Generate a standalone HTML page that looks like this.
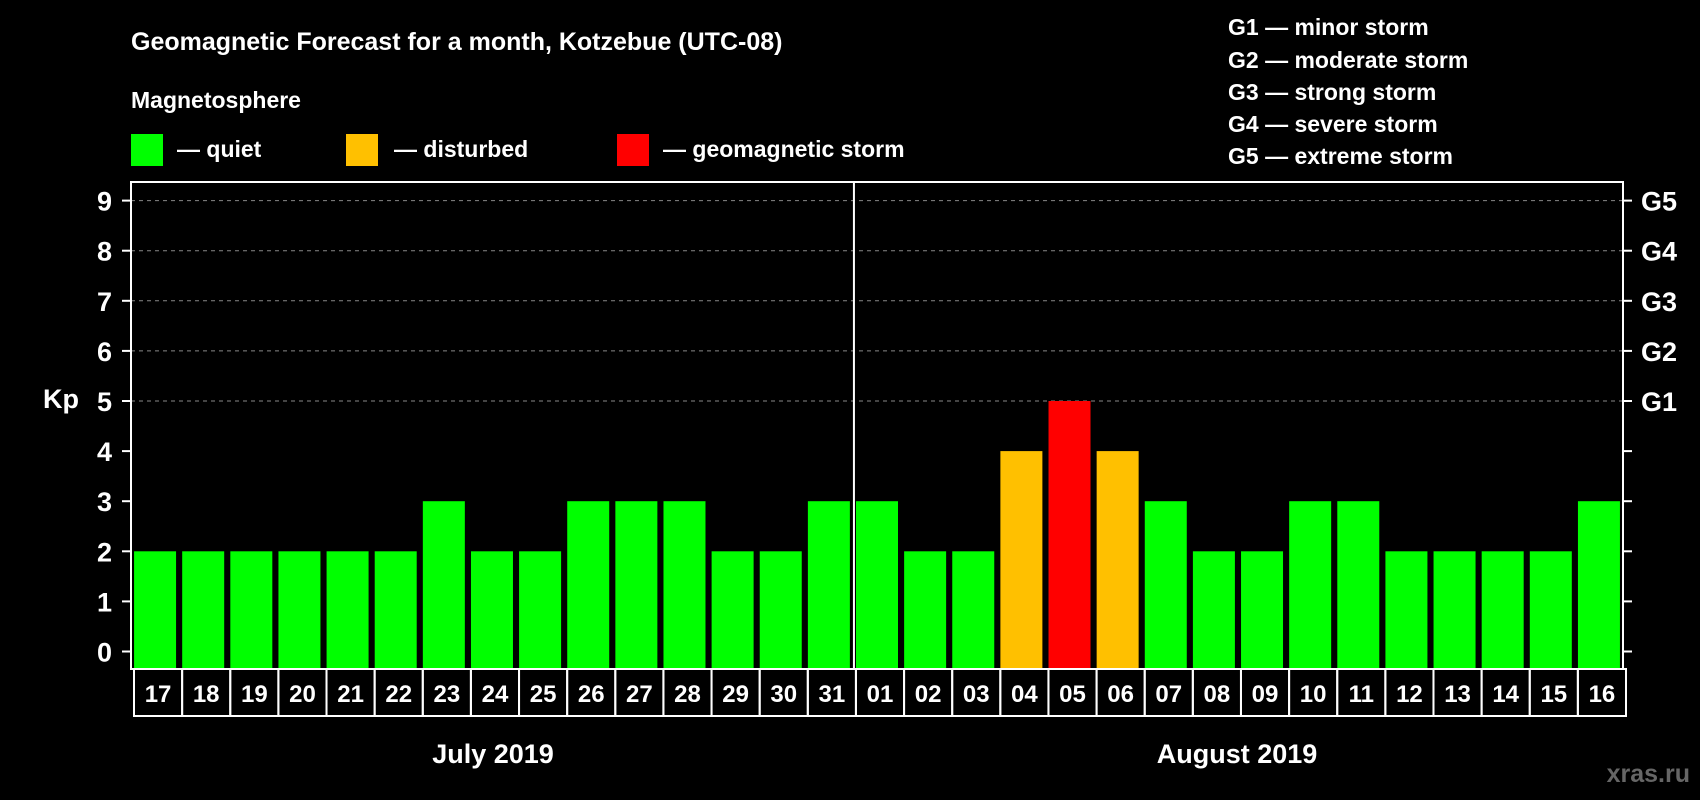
<!DOCTYPE html>
<html><head><meta charset="utf-8"><style>
html,body{margin:0;padding:0;background:#000;width:1700px;height:800px;overflow:hidden}
svg{display:block}
text{font-family:"Liberation Sans",Arial,sans-serif;font-weight:bold;fill:#fff}
</style></head><body>
<svg id="chart" width="1700" height="800" viewBox="0 0 1700 800">
<text x="131" y="50" font-size="25">Geomagnetic Forecast for a month, Kotzebue (UTC-08)</text>
<text x="131" y="108" font-size="23">Magnetosphere</text>
<rect x="131" y="134" width="32" height="32" fill="#00ff00"/>
<text x="177" y="157" font-size="23">— quiet</text>
<rect x="346" y="134" width="32" height="32" fill="#ffc000"/>
<text x="394" y="157" font-size="23">— disturbed</text>
<rect x="617" y="134" width="32" height="32" fill="#ff0000"/>
<text x="663" y="157" font-size="23">— geomagnetic storm</text>
<g font-size="23">
<text x="1228" y="35">G1 — minor storm</text>
<text x="1228" y="68">G2 — moderate storm</text>
<text x="1228" y="100">G3 — strong storm</text>
<text x="1228" y="132">G4 — severe storm</text>
<text x="1228" y="164">G5 — extreme storm</text>
</g>
<text x="43" y="408" font-size="27">Kp</text>
<g id="grid"></g><g id="bars"></g><g id="axes"></g>
<text x="493" y="763" font-size="27" text-anchor="middle">July 2019</text>
<text x="1237" y="763" font-size="27" text-anchor="middle">August 2019</text>
<text x="1690" y="782" font-size="25" text-anchor="end" style="fill:#666">xras.ru</text>
</svg>
<script>
const days=["17","18","19","20","21","22","23","24","25","26","27","28","29","30","31","01","02","03","04","05","06","07","08","09","10","11","12","13","14","15","16"];
const kpValues=[2,2,2,2,2,2,3,2,2,3,3,3,2,2,3,3,2,2,4,5,4,3,2,2,3,3,2,2,2,2,3];
const yTicks=[0,1,2,3,4,5,6,7,8,9];
const gLabels=["G1","G2","G3","G4","G5"];
const NS="http://www.w3.org/2000/svg";
const L=131,R=1623,T=182,B=669;
const slot=(R-L)/days.length, bw=42;
function y(v){return 651.5-v*50.1;}
function x(i){return L+i*slot+(slot-bw)/2;}
function mk(tag,attrs,parent){const e=document.createElementNS(NS,tag);for(const k in attrs)e.setAttribute(k,attrs[k]);parent.appendChild(e);return e;}
const grid=document.getElementById('grid'),bars=document.getElementById('bars'),axes=document.getElementById('axes');
yTicks.forEach(v=>{
  if(v>=5){const g=mk('line',{x1:L,x2:R,y1:y(v),y2:y(v),stroke:'#888','stroke-width':1,'stroke-dasharray':'4,4'},grid);
  
  }
  const t1=mk('line',{x1:L-9,x2:L,y1:y(v),y2:y(v),stroke:'#fff','stroke-width':2},axes);
  
  
  const t2=mk('line',{x1:R,x2:R+9,y1:y(v),y2:y(v),stroke:'#fff','stroke-width':2},axes);
  
  
  const lb=mk('text',{x:112,y:y(v)+10,'font-size':27,'text-anchor':'end'},axes);lb.textContent=v;
  
  
});
gLabels.forEach((g,i)=>{
  const t=mk('text',{x:1641,y:y(5+i)+10,'font-size':27},axes);t.textContent=g;
  
  
});
kpValues.forEach((v,i)=>{
  const c=v>=5?'#ff0000':(v>=4?'#ffc000':'#00ff00');
  const r=mk('rect',{x:x(i),y:y(v),width:bw,height:B-y(v),fill:c},bars);
  
  
  const bx=mk('rect',{x:L+3+i*slot,y:B,width:slot,height:47,fill:'none',stroke:'#fff','stroke-width':2},axes);
  
  
  const dl=mk('text',{x:L+3+i*slot+slot/2,y:B+33,'font-size':24,'text-anchor':'middle'},axes);dl.textContent=days[i];
  
  
});
const fr=mk('rect',{x:L,y:T,width:R-L,height:B-T,fill:'none',stroke:'#fff','stroke-width':2},axes);


const mi=days.indexOf("01");
const dv=mk('line',{x1:L+mi*slot+1,x2:L+mi*slot+1,y1:T,y2:B,stroke:'#fff','stroke-width':2},axes);


</script>
</body></html>
